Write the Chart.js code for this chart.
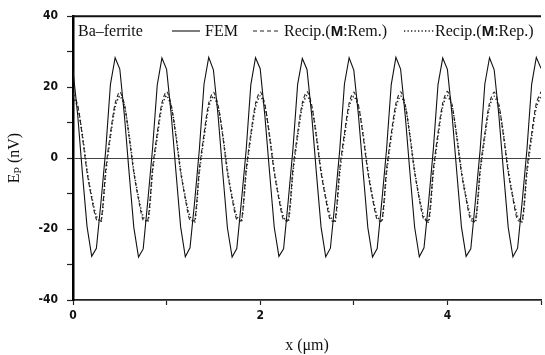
<!DOCTYPE html>
<html><head><meta charset="utf-8">
<script src="https://cdn.jsdelivr.net/npm/chart.js@4/dist/chart.umd.min.js"></script>
<style>html,body{margin:0;padding:0;background:#fff;}#wrap{width:545px;height:355px;}</style>
</head><body><div id="wrap"><canvas id="c" width="545" height="355"></canvas></div>
<script>
// x positions (μm)
const xValues = [
 0,0.05,0.1,0.15,0.2,0.25,0.3,0.35,0.4,0.45,
 0.5,0.55,0.6,0.65,0.7,0.75,0.8,0.85,0.9,0.95,
 1,1.05,1.1,1.15,1.2,1.25,1.3,1.35,1.4,1.45,
 1.5,1.55,1.6,1.65,1.7,1.75,1.8,1.85,1.9,1.95,
 2,2.05,2.1,2.15,2.2,2.25,2.3,2.35,2.4,2.45,
 2.5,2.55,2.6,2.65,2.7,2.75,2.8,2.85,2.9,2.95,
 3,3.05,3.1,3.15,3.2,3.25,3.3,3.35,3.4,3.45,
 3.5,3.55,3.6,3.65,3.7,3.75,3.8,3.85,3.9,3.95,
 4,4.05,4.1,4.15,4.2,4.25,4.3,4.35,4.4,4.45,
 4.5,4.55,4.6,4.65,4.7,4.75,4.8,4.85,4.9,4.95,
 5
];
// FEM (solid)
const femValues = [
 24.7,12.2,-4.1,-19.3,-27.7,-25.4,-12.1,2.4,20.8,28.3,
 25.1,11.8,-4.3,-19.6,-27.9,-25.6,-11.8,2.7,20.6,28.2,
 25.0,12.1,-3.9,-19.4,-27.8,-25.3,-12.2,2.5,20.9,28.4,
 24.9,12.0,-4.2,-19.7,-27.9,-25.5,-12.0,2.3,20.7,28.3,
 25.2,11.9,-4.0,-19.5,-27.7,-25.6,-11.9,2.6,20.8,28.1,
 25.0,12.2,-4.1,-19.4,-27.8,-25.4,-12.1,2.4,20.9,28.3,
 24.8,12.0,-4.0,-19.6,-27.9,-25.5,-12.0,2.5,20.7,28.4,
 25.1,11.9,-4.2,-19.5,-27.8,-25.3,-12.2,2.6,20.8,28.2,
 25.0,12.1,-3.9,-19.4,-27.7,-25.6,-11.9,2.4,20.9,28.3,
 24.9,12.0,-4.1,-19.6,-27.8,-25.4,-12.0,2.5,20.8,28.4,
 25.3
];
// Recip.(M:Rem.) (dashed)
const remValues = [
 18.4,15.0,6.1,-4.0,-11.4,-17.3,-17.6,-3.1,7.0,15.4,
 18.7,15.1,5.9,-4.2,-11.6,-17.5,-17.4,-2.9,7.1,15.6,
 18.8,14.9,6.0,-3.9,-11.5,-17.6,-17.5,-3.0,6.9,15.5,
 18.6,15.0,6.2,-4.1,-11.4,-17.4,-17.6,-3.2,7.0,15.4,
 18.7,15.2,5.9,-4.0,-11.6,-17.5,-17.3,-3.0,7.1,15.6,
 18.8,15.0,6.0,-4.1,-11.5,-17.6,-17.5,-2.9,7.0,15.5,
 18.6,14.9,6.1,-3.9,-11.4,-17.4,-17.6,-3.1,6.9,15.4,
 18.7,15.1,6.0,-4.0,-11.6,-17.5,-17.4,-3.0,7.1,15.5,
 18.8,15.0,5.9,-4.2,-11.5,-17.6,-17.5,-3.1,7.0,15.6,
 18.6,15.1,6.1,-4.0,-11.4,-17.5,-17.6,-2.9,6.9,15.5,
 18.7
];
// Recip.(M:Rep.) (dotted)
const repValues = [
 17.3,14.4,6.6,-3.4,-10.9,-16.4,-17.9,-4.1,6.0,14.4,
 17.5,14.6,6.4,-3.6,-11.1,-16.6,-18.0,-3.9,6.1,14.6,
 17.6,14.5,6.5,-3.5,-11.0,-16.5,-18.1,-4.0,5.9,14.5,
 17.4,14.4,6.6,-3.4,-10.9,-16.4,-17.9,-4.1,6.0,14.4,
 17.5,14.6,6.5,-3.6,-11.1,-16.6,-18.0,-3.9,6.1,14.6,
 17.6,14.5,6.4,-3.5,-11.0,-16.5,-18.1,-4.0,6.0,14.5,
 17.4,14.4,6.6,-3.4,-10.9,-16.4,-17.9,-4.1,5.9,14.4,
 17.5,14.6,6.5,-3.6,-11.1,-16.6,-18.0,-3.9,6.1,14.6,
 17.6,14.5,6.4,-3.5,-11.0,-16.5,-18.1,-4.0,6.0,14.5,
 17.4,14.4,6.6,-3.4,-10.9,-16.4,-17.9,-4.1,5.9,14.4,
 17.5
];
const seriesNames = ['FEM','Recip.(M:Rem.)','Recip.(M:Rep.)'];
const materialLabel = 'Ba–ferrite';
const yTickLabels = [-40,-20,0,20,40];
const xTickLabels = [0,2,4];
const xAxisTitle = 'x (μm)';
const yAxisTitle = 'Eₚ (nV)';

const SERIF = "'Liberation Serif','DejaVu Serif',serif";
const NARROW = "'Liberation Sans Narrow','DejaVu Sans Condensed','Liberation Sans',sans-serif";

function pts(vals){ return xValues.map((x,i)=>({x:x, y:vals[i]})); }

const legendPlacement = [
  {x0:172, x1:200, tx:205},
  {x0:253, x1:281, tx:284},
  {x0:404, x1:434, tx:435}
];

// the magnetisation symbol "M" inside "(M:" is set in bold sans, the rest in serif
function drawRich(ctx, text, x, y){
  const parts = text.split(/(\(M:)/);
  let cx = x;
  parts.forEach((p)=>{
    if(p === '(M:'){
      ctx.font = "16px " + SERIF;
      ctx.fillText('(', cx, y); cx += ctx.measureText('(').width;
      ctx.font = "bold 15px 'Liberation Sans','DejaVu Sans',sans-serif";
      ctx.fillText('M', cx, y); cx += ctx.measureText('M').width;
      ctx.font = "16px " + SERIF;
      ctx.fillText(':', cx, y); cx += ctx.measureText(':').width;
    } else if (p.length){
      ctx.font = "16px " + SERIF;
      ctx.fillText(p, cx, y);
      cx += ctx.measureText(p).width;
    }
  });
}

const framePlugin = {
  id:'frame',
  afterDraw(chart){
    const {ctx, chartArea:a} = chart;
    ctx.save();
    ctx.strokeStyle = '#111';
    ctx.lineWidth = 2;
    ctx.beginPath(); ctx.moveTo(a.left-1, a.top); ctx.lineTo(a.right, a.top); ctx.stroke();
    ctx.fillStyle = '#111';
    ctx.textBaseline = 'alphabetic';
    ctx.textAlign = 'left';
    const ly = 36, lineY = 31;
    ctx.font = "16px " + SERIF;
    ctx.fillText(materialLabel, 78, ly);
    chart.data.datasets.forEach((ds,i)=>{
      const p = legendPlacement[i];
      ctx.save();
      ctx.strokeStyle = ds.borderColor;
      ctx.lineWidth = ds.borderWidth;
      ctx.setLineDash(ds.borderDash || []);
      ctx.beginPath(); ctx.moveTo(p.x0, lineY); ctx.lineTo(p.x1, lineY); ctx.stroke();
      ctx.restore();
      drawRich(ctx, ds.label, p.tx, ly);
    });
    ctx.restore();
  }
};

new Chart(document.getElementById('c'), {
  type:'line',
  data:{
    datasets:[
      {label:seriesNames[0], data:pts(femValues), borderColor:'#111', borderWidth:1.1, pointRadius:0, tension:0, fill:false},
      {label:seriesNames[1], data:pts(remValues), borderColor:'#222', borderWidth:1.1, borderDash:[4,3], pointRadius:0, tension:0.25, fill:false},
      {label:seriesNames[2], data:pts(repValues), borderColor:'#222', borderWidth:1.6, borderDash:[1.3,2.2], pointRadius:0, tension:0.25, fill:false}
    ]
  },
  options:{
    responsive:false, animation:false, devicePixelRatio:1,
    layout:{padding:{top:12,right:0,left:0,bottom:0}},
    plugins:{legend:{display:false}, tooltip:{enabled:false}},
    scales:{
      x:{
        type:'linear', min:0, max:5,
        afterFit:(s)=>{ s.height = 55; },
        ticks:{stepSize:1, autoSkip:false, maxRotation:0, padding:4, color:'#111',
          font:{family:NARROW, size:12, weight:'bold'},
          callback:(v)=> xTickLabels.includes(v) ? String(v) : ''},
        grid:{drawOnChartArea:false, drawTicks:true, tickLength:5, tickColor:'#222', tickWidth:1.2},
        border:{display:true, color:'#222', width:1.8},
        title:{display:true, text:xAxisTitle, color:'#111', font:{family:SERIF, size:16}, padding:{top:0,bottom:0}}
      },
      y:{
        type:'linear', min:-40, max:40,
        afterFit:(s)=>{ s.width = 73; },
        ticks:{stepSize:10, autoSkip:false, padding:9, color:'#111',
          font:{family:NARROW, size:12, weight:'bold'},
          callback:(v)=> yTickLabels.includes(v) ? String(v) : ''},
        grid:{drawOnChartArea:true, drawTicks:true, tickLength:6, tickColor:'#222', tickWidth:1.2,
          color:(c)=> (c.tick && c.tick.value===0) ? '#444' : 'rgba(0,0,0,0)', lineWidth:1},
        border:{display:true, color:'#000', width:2.5},
        title:{display:true, text:yAxisTitle, color:'#111', font:{family:SERIF, size:16}, padding:{top:5,bottom:0}}
      }
    }
  },
  plugins:[framePlugin]
});
</script>
</body></html>
